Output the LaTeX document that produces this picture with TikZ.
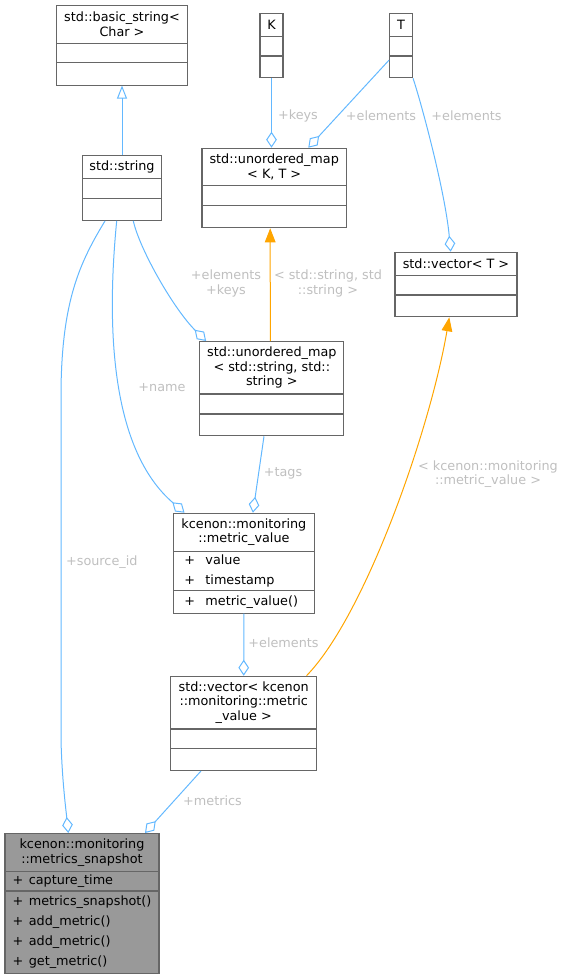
\documentclass[tikz,border=0pt]{standalone}
\usepackage{fontspec}
\setmainfont{DejaVu Sans}
\usetikzlibrary{arrows.meta, shapes.multipart, calc, positioning}
\definecolor{edgeblue}{HTML}{63B8FF}
\definecolor{tplorange}{HTML}{FFA500}
\definecolor{boxgray}{HTML}{666666}
\definecolor{lblgray}{HTML}{BFBFBF}
\definecolor{snapfill}{HTML}{999999}
\newdimen\pxu \pxu=0.75pt
\newcommand{\aggTip}{{Diamond[open, length=12pt, width=8pt]}}
\newcommand{\inhTip}{{Triangle[open, length=9.75pt, width=7.5pt]}}
\newcommand{\tplTip}{{Triangle[length=10.5pt, width=8pt]}}
\newcommand{\cpart}[3]{\parbox[c][\dimexpr#2\pxu-1pt\relax][c]{#1\pxu}{\centering #3}}
\newcommand{\mpart}[3]{\parbox[c][\dimexpr#2\pxu-1pt\relax][c]{#1\pxu}{\baselineskip=15pt #3}}
\newcommand{\mrow}[3]{\hspace*{#1\pxu}\makebox[#2\pxu][l]{+}#3\par}
\newcommand{\umlbox}[7]{\cpart{#1}{#2}{#3}\nodepart{two}\mpart{#1}{#4}{#5}\nodepart{three}\mpart{#1}{#6}{#7}}

\begin{document}
\begin{tikzpicture}[x=0.75pt, y=-0.75pt, font=\fontsize{9.6}{10.9}\selectfont,
	cls/.style={rectangle split, rectangle split parts=3, draw=boxgray, line width=0.8pt, fill=white, inner sep=0pt, anchor=north},
	assoc/.style={draw=edgeblue, line width=0.75pt},
	tpl/.style={draw=tplorange, line width=0.75pt},
	lbl/.style={text=lblgray, inner sep=0pt, align=center}]
	\useasboundingbox (0,0) rectangle (563,979);
	
	% classes
	\node[cls] (bstr) at (122,5) {\umlbox{131.3}{38}{std::basic\_string<\\Char >}{19.6}{}{22.7}{}};
	\node[cls] (kk) at (271.5,12.7) {\umlbox{23}{23.3}{K}{20}{}{22}{}};
	\node[cls] (tt) at (401,12.7) {\umlbox{23}{23.3}{T}{20}{}{22}{}};
	\node[cls] (str) at (122,155) {\umlbox{78.8}{23.3}{std::string}{20.4}{}{22}{}};
	\node[cls] (mapkt) at (274.2,147.7) {\umlbox{144.4}{37.6}{std::unordered\_map\\< K, T >}{20}{}{22.7}{}};
	\node[cls] (vect) at (456,251.7) {\umlbox{122}{23.6}{std::vector< T >}{19.7}{}{22}{}};
	\node[cls] (mapss) at (271.8,341) {\umlbox{144.3}{52.7}{std::unordered\_map\\< std::string, std::\\string >}{20.3}{}{22}{}};
	\node[cls] (mval) at (243.9,512.7) {\umlbox{140.3}{38.3}{kcenon::monitoring\\::metric\_value}{39.7}{\mrow{10.5}{21.2}{value}\mrow{10.5}{21.2}{timestamp}}{22.6}{\mrow{10.5}{21.2}{metric\_value()}}};
	\node[cls] (vecmv) at (243.7,675.7) {\umlbox{145.6}{53}{std::vector< kcenon\\::monitoring::metric\\\_value >}{20}{}{22}{}};
	\node[cls, fill=snapfill] (snap) at (82,833) {\umlbox{154}{38.3}{kcenon::monitoring\\::metrics\_snapshot}{19.7}{\mrow{7.6}{16.2}{capture\_time}}{82.3}{\mrow{7.6}{16.2}{metrics\_snapshot()}\mrow{7.6}{16.2}{add\_metric()}\mrow{7.6}{16.2}{add\_metric()}\mrow{7.6}{16.2}{get\_metric()}}};
	
	% inheritance and template links
	\draw[assoc, -\inhTip] (str.north) -- (bstr.south);
	\draw[tpl, -\tplTip] ($(mapss.north)+(-1.5,0)$) -- ($(mapkt.south)+(-4,0)$)
		node[lbl] (lmapss) at (328,283.5) {< std::string, std\\::string >};
	\draw[tpl, -\tplTip] ($(vecmv.north east)+(-10.5,0)$) .. controls +(59,-60.7) and +(-19.3,112.7) .. ($(vect.south)+(-6.7,0)$)
		node[lbl] (lvecmv) at (488,474) {< kcenon::monitoring\\::metric\_value >};
	
	% members
	\draw[assoc, -\aggTip] (kk.south) -- (kk.south |- mapkt.north)
		node[lbl] (lkeys) at (298,115.7) {+keys};
	\draw[assoc, -\aggTip] ($(tt.west)+(0,14.7)$) -- ($(mapkt.north)+(34.1,0)$)
		node[lbl] (lelkt) at (381,115.7) {+elements};
	\draw[assoc, -\aggTip] (tt.south east) .. controls +(7.4,22) and +(-5.7,-61.7) .. ($(vect.north)+(-5.3,0)$)
		node[lbl] (lelvt) at (466.5,115.7) {+elements};
	\draw[assoc, -\aggTip] ($(str.south)+(11.3,0)$) .. controls +(6.7,29.5) and +(-31.6,-31) .. ($(mapss.north west)+(7,0)$)
		node[lbl] (lelkeys) at (226,283.5) {+elements\\+keys};
	\draw[assoc, -\aggTip] ($(str.south)+(-5.3,0)$) .. controls +(-10.7,109.3) and +(-73,-62.7) .. ($(mval.north west)+(11.3,0)$)
		node[lbl] (lname) at (162,387.7) {+name};
	\draw[assoc, -\aggTip] ($(mapss.south)+(-7.8,0)$) -- ($(mval.north)+(9,0)$)
		node[lbl] (ltags) at (283,473.7) {+tags};
	\draw[assoc, -\aggTip] ($(str.south)+(-17,0)$) .. controls +(-25,41.3) and (62,300) .. (61,390) -- (61,740)
		.. controls (62,780) and (66,810) .. ($(snap.north)+(-13.7,0)$)
		node[lbl] (lsrc) at (101.8,562) {+source\_id};
	\draw[assoc, -\aggTip] (mval.south) -- (vecmv.north)
		node[lbl] (lelmv) at (283.5,643) {+elements};
	\draw[assoc, -\aggTip] ($(vecmv.south)+(-42.7,0)$) -- ($(snap.north)+(63,0)$)
		node[lbl] (lmetrics) at (212.5,800.7) {+metrics};
\end{tikzpicture}
\end{document}
